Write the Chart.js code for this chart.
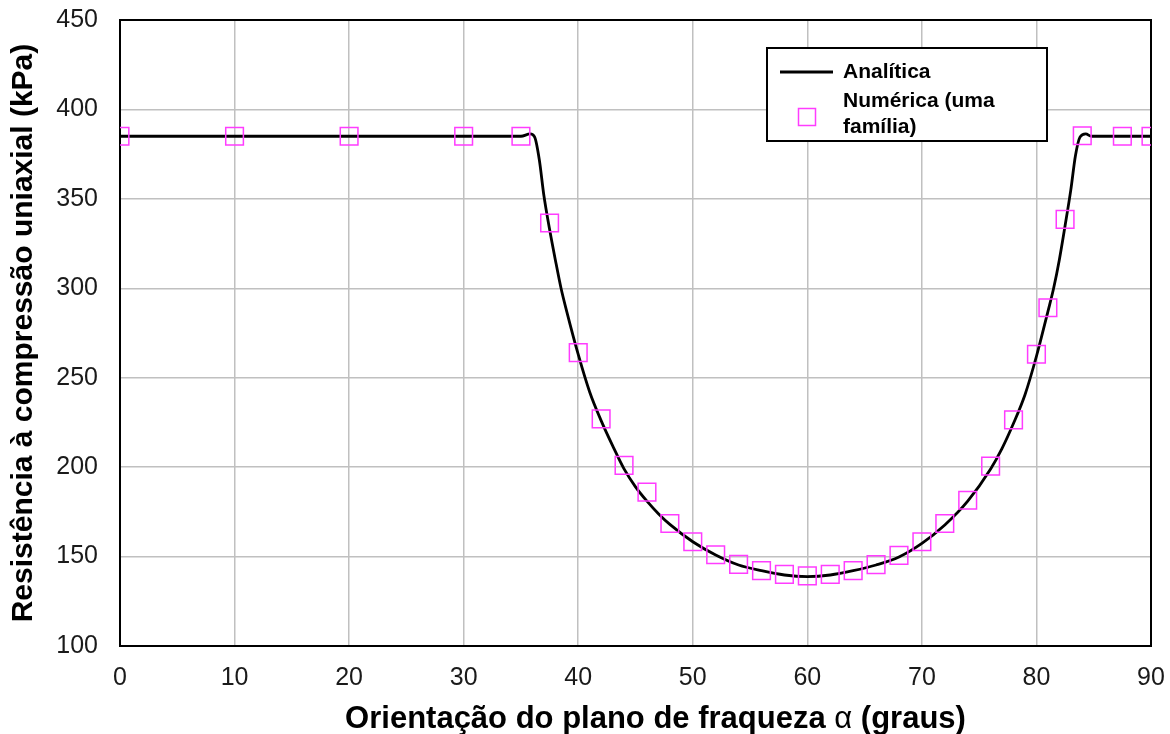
<!DOCTYPE html>
<html>
<head>
<meta charset="utf-8">
<script src="https://cdn.jsdelivr.net/npm/chart.js@4.4.0/dist/chart.umd.min.js"></script>
<style>
  html, body { margin: 0; padding: 0; background: #ffffff; }
  canvas { display: block; }
</style>
</head>
<body>
<canvas id="grafico" width="1170" height="734"></canvas>
<script>
// Curva analítica: orientação do plano (graus) e resistência (kPa)
const analiticaAngulo = [0, 10, 20, 30, 35, 35.8, 36.2, 36.6, 37, 37.5, 38, 38.5, 39, 40, 41, 42, 43, 44, 45, 46, 47, 48, 50, 52, 54, 56, 58, 60, 62, 64, 66, 68, 70, 72, 74, 76, 77, 78, 79, 80, 81, 81.5, 82, 82.5, 83, 83.4, 83.8, 84.3, 84.8, 87.5, 90];
const analiticaResist = [385, 385, 385, 385, 385, 386.3, 384.5, 372, 352, 333, 316, 300, 287, 263, 242, 226, 212, 199, 189, 181, 174, 168, 158.3, 150.9, 145.3, 142.1, 139.7, 138.8, 139.7, 142.1, 145.3, 149.8, 157.4, 167.7, 181, 199, 210.5, 224.5, 240.5, 262, 287, 300, 316, 335, 355, 374, 384.5, 386.3, 385, 385, 385];

// Resultados numéricos (uma família de descontinuidades)
const numericaAngulo = [0, 10, 20, 30, 35, 37.5, 40, 42, 44, 46, 48, 50, 52, 54, 56, 58, 60, 62, 64, 66, 68, 70, 72, 74, 76, 78, 80, 81, 82.5, 84, 87.5, 90];
const numericaResist = [385, 385, 385, 385, 385, 336.5, 264, 227, 201, 186, 168.5, 158.3, 151, 145.6, 142.1, 140, 139.2, 140, 142.1, 145.5, 150.7, 158.3, 168.5, 181.5, 200.6, 226.4, 263.1, 289.1, 338.5, 385.3, 385, 385];

// Eixos
const xTicks = [0, 10, 20, 30, 40, 50, 60, 70, 80, 90];
const yTicks = [100, 150, 200, 250, 300, 350, 400, 450];

const nomeAnalitica = ['Analítica'];
const nomeNumerica = ['Numérica (uma', 'família)'];
const tituloY = 'Resistência à compressão uniaxial (kPa)';
const tituloX = ['Orientação do plano de fraqueza ', 'α', ' (graus)'];

const corNumerica = '#ff3cff';
const fonte = "'Liberation Sans', Arial, sans-serif";

const pontos = (xs, ys) => xs.map((x, i) => ({ x: x, y: ys[i] }));

// Moldura da área do gráfico, legenda e título do eixo horizontal
const decoracao = {
  id: 'decoracao',
  beforeDatasetsDraw(chart) {
    const { ctx, chartArea: a } = chart;
    ctx.save();
    ctx.strokeStyle = '#000000';
    ctx.lineWidth = 2;
    ctx.strokeRect(a.left, a.top, a.right - a.left, a.bottom - a.top);
    ctx.restore();
  },
  afterDraw(chart) {
    const { ctx, chartArea: a } = chart;
    ctx.save();

    // Legenda
    const lx = 767, ly = 48, lw = 280, lh = 93;
    ctx.fillStyle = '#ffffff';
    ctx.fillRect(lx, ly, lw, lh);
    ctx.strokeStyle = '#000000';
    ctx.lineWidth = 2;
    ctx.strokeRect(lx, ly, lw, lh);

    ctx.beginPath();
    ctx.moveTo(780, 72);
    ctx.lineTo(833, 72);
    ctx.lineWidth = 3;
    ctx.strokeStyle = '#000000';
    ctx.stroke();

    ctx.strokeStyle = corNumerica;
    ctx.lineWidth = 1.5;
    ctx.strokeRect(798.5, 108.5, 17, 17);

    ctx.fillStyle = '#000000';
    ctx.font = 'bold 21px ' + fonte;
    ctx.textBaseline = 'middle';
    ctx.textAlign = 'left';
    ctx.fillText(nomeAnalitica[0], 843, 72);
    ctx.fillText(nomeNumerica[0], 843, 101);
    ctx.fillText(nomeNumerica[1], 843, 127);

    // Título do eixo x (α em traço normal)
    const fontes = ['bold 31px ' + fonte, '31px ' + fonte, 'bold 31px ' + fonte];
    let total = 0;
    const larguras = tituloX.map((t, i) => {
      ctx.font = fontes[i];
      const w = ctx.measureText(t).width;
      total += w;
      return w;
    });
    let x = (a.left + a.right) / 2 + 20 - total / 2;
    ctx.textBaseline = 'alphabetic';
    tituloX.forEach((t, i) => {
      ctx.font = fontes[i];
      ctx.fillText(t, x, 728);
      x += larguras[i];
    });
    ctx.restore();
  }
};

new Chart(document.getElementById('grafico'), {
  type: 'scatter',
  data: {
    datasets: [
      {
        label: nomeNumerica.join(' '),
        data: pontos(numericaAngulo, numericaResist),
        showLine: false,
        pointStyle: 'rect',
        pointRadius: 12.5,
        pointHoverRadius: 12.5,
        pointBorderWidth: 1.5,
        pointBorderColor: corNumerica,
        pointBackgroundColor: 'rgba(0,0,0,0)',
        order: 0
      },
      {
        label: nomeAnalitica[0],
        data: pontos(analiticaAngulo, analiticaResist),
        showLine: true,
        borderColor: '#000000',
        borderWidth: 2.8,
        pointRadius: 0,
        pointHoverRadius: 0,
        cubicInterpolationMode: 'monotone',
        fill: false,
        order: 1
      }
    ]
  },
  options: {
    responsive: false,
    animation: false,
    devicePixelRatio: 1,
    layout: { padding: { top: 20, right: 19, left: 0, bottom: 0 } },
    plugins: {
      legend: { display: false },
      tooltip: { enabled: false },
      title: { display: false }
    },
    scales: {
      x: {
        type: 'linear',
        min: xTicks[0],
        max: xTicks[xTicks.length - 1],
        afterBuildTicks(scale) { scale.ticks = xTicks.map(v => ({ value: v })); },
        afterFit(scale) {
          scale.height = 88;
          scale.paddingLeft = 0;
          scale.paddingRight = 0;
        },
        ticks: {
          font: { family: fonte, size: 25 },
          color: '#1a1a1a',
          padding: 17,
          maxRotation: 0
        },
        grid: { color: '#c0c0c0', lineWidth: 1.5, drawTicks: false },
        border: { display: false }
      },
      y: {
        type: 'linear',
        min: yTicks[0],
        max: yTicks[yTicks.length - 1],
        afterBuildTicks(scale) { scale.ticks = yTicks.map(v => ({ value: v })); },
        afterFit(scale) {
          scale.width = 120;
          scale.paddingTop = 0;
          scale.paddingBottom = 0;
        },
        ticks: {
          font: { family: fonte, size: 25 },
          color: '#1a1a1a',
          padding: 22
        },
        grid: { color: '#c0c0c0', lineWidth: 1.5, drawTicks: false },
        border: { display: false },
        title: {
          display: true,
          text: tituloY,
          color: '#000000',
          font: { family: fonte, size: 30, weight: 'bold' },
          padding: { top: 6, bottom: 0 }
        }
      }
    }
  },
  plugins: [decoracao]
});
</script>
</body>
</html>
